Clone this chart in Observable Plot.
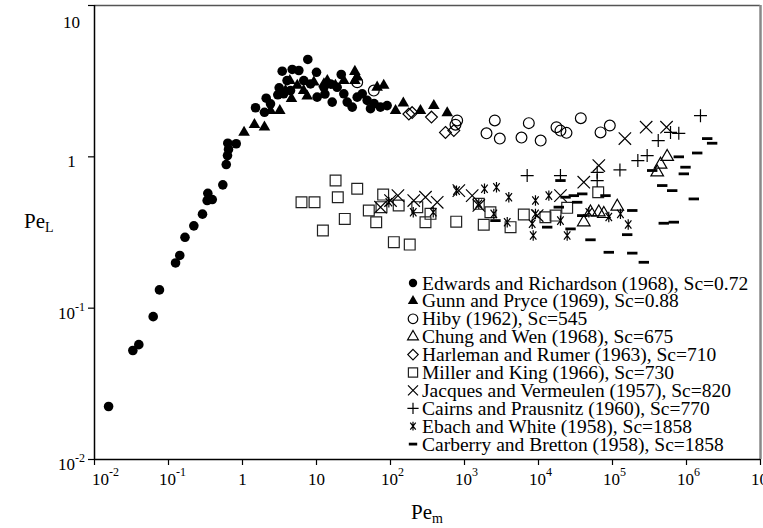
<!DOCTYPE html>
<html><head><meta charset="utf-8">
<script src="https://cdn.jsdelivr.net/npm/d3@7"></script>
<script src="https://cdn.jsdelivr.net/npm/@observablehq/plot@0.6"></script>
<style>
body{margin:0;background:#fff;}
#wrap{position:relative;width:763px;height:528px;}
</style></head><body><div id="wrap"></div>
<script>
// ---- data (Pe_m, Pe_L) ----
const xTicks = [1e-2, 1e-1, 1, 10, 1e2, 1e3, 1e4, 1e5, 1e6, 1e7];
const yTicks = [1e-2, 1e-1, 1, 10];
const edwards = [[0.0155,0.0224],[0.033,0.0525],[0.0397,0.0574],[0.0621,0.0879],[0.0755,0.132],[0.1245,0.199],[0.142,0.223],[0.167,0.294],[0.22,0.35],[0.288,0.418],[0.333,0.514],[0.39,0.522],[0.34,0.574],[0.542,0.653],[0.603,0.889],[0.627,1.02],[0.647,1.12],[0.633,1.23],[0.822,1.22],[1.5,2.11],[2.09,2.44],[2.39,2.24],[1.98,1.97],[3.13,2.86],[3.0,2.57],[3.44,3.68],[4.7,3.78],[5.77,3.72],[7.63,4.4],[10,3.62],[10.2,2.48],[16.3,2.3],[21.6,3.5],[30.4,2.13],[35.5,2.48],[53.7,2.08],[73,2.13],[90,2.18],[4.0,3.19],[4.45,2.74],[6.73,3.19],[8.3,3.03],[12.6,2.88],[15.5,3.03],[19,2.88],[3.6,2.61],[23.4,2.61],[48.4,2.36],[41.5,2.61],[26,2.3],[60,2.25],[13,2.6]];
const gunn = [[1.05,1.45],[1.45,1.63],[1.98,1.57],[2.39,2.02],[3.19,2.02],[4.36,3.19],[4.59,2.42],[7.48,2.52],[14,3.19],[18,2.96],[33,3.66],[33,3.19],[81,2.96],[117,2.02],[149,2.26],[254,2.02],[385,2.18],[584,1.95],[9.2,3.11],[12.6,3.03],[5.5,2.96],[6.7,2.74],[23.4,3.19],[66,2.88],[35.5,3.36],[3.81,2.74]];
const hiby = [[35.5,3.11],[59.5,2.74],[796,1.74],[755,1.63],[1983,1.43],[2566,1.74],[3000,1.32],[5890,1.34],[7400,1.67],[10700,1.28],[17500,1.57],[19800,1.49],[23900,1.44],[37300,1.8],[68900,1.45],[92000,1.61]];
const chung = [[402000,0.791],[446000,0.889],[548000,1.0],[50400,0.43],[65300,0.43],[76300,0.42],[116000,0.47],[40900,0.37]];
const harleman = [[177,1.92],[196,1.96],[358,1.83],[553,1.45],[717,1.49]];
const miller = [[6.27,0.501],[9.4,0.501],[18.1,0.697],[19.4,0.541],[35.5,0.615],[24.1,0.389],[12.2,0.326],[50.9,0.442],[64.1,0.37],[79.6,0.563],[75.5,0.465],[129,0.477],[230,0.465],[297,0.37],[111,0.273],[182,0.263],[347,0.42],[773,0.373],[1560,0.489],[1820,0.356],[2240,0.43],[4190,0.343],[6330,0.416],[12400,0.399],[17000,0.409],[24400,0.46],[64100,0.583]];
const jacques = [[285000,1.57],[147000,1.32],[537000,1.57],[65300,0.876],[40900,0.68],[126,0.554],[100,0.514],[206,0.514],[297,0.541],[428,0.501],[838,0.598],[73.3,0.465],[1560,0.477],[19800,0.554],[9600,0.409],[1270,0.554]];
const cairns = [[7030,0.752],[19800,0.752],[62100,0.697],[62100,0.79],[126000,0.82],[220000,0.945],[294000,1.02],[415000,1.28],[608000,1.45],[787000,1.43],[1545000,1.87]];
const ebach = [[780,0.598],[1862,0.615],[2705,0.63],[3970,0.541],[9100,0.514],[13800,0.554],[203,0.43],[378,0.43],[2490,0.42],[3780,0.37],[8220,0.361],[8480,0.302],[9100,0.42],[19800,0.379],[24400,0.302],[47900,0.43],[89100,0.4],[128000,0.42],[163000,0.357],[95,0.501],[1560,0.49]];
const carberry = [[1905000,1.32],[2220000,1.23],[1395000,1.06],[787000,1.0],[969000,0.854],[920000,0.772],[344000,0.812],[470000,0.646],[641000,0.598],[1255000,0.527],[19800,0.697],[23200,0.541],[30000,0.554],[39000,0.569],[80400,0.554],[33300,0.501],[18800,0.465],[39000,0.409],[185000,0.442],[2620,0.379],[13100,0.343],[27100,0.334],[50400,0.283],[89100,0.234],[158000,0.306],[185000,0.231],[265000,0.201],[493000,0.364],[673000,0.37]];
const labels = ["Edwards and Richardson (1968), Sc=0.72","Gunn and Pryce (1969), Sc=0.88","Hiby (1962), Sc=545","Chung and Wen (1968), Sc=675","Harleman and Rumer (1963), Sc=710","Miller and King (1966), Sc=730","Jacques and Vermeulen (1957), Sc=820","Cairns and Prausnitz (1960), Sc=770","Ebach and White (1958), Sc=1858","Carberry and Bretton (1958), Sc=1858"];

// ---- symbols ----
const R = s => Math.sqrt(s / Math.PI);
const SYM = {
  circle: {draw(c, s) { const r = R(s); c.moveTo(r, 0); c.arc(0, 0, r, 0, 2 * Math.PI); }},
  triangle: {draw(c, s) { const h = R(s), t = 2 * h / Math.sqrt(3); c.moveTo(0, -t); c.lineTo(h, t / 2); c.lineTo(-h, t / 2); c.closePath(); }},
  square: {draw(c, s) { const h = R(s); c.rect(-h, -h, 2 * h, 2 * h); }},
  diamond: {draw(c, s) { const h = R(s); c.moveTo(0, -h); c.lineTo(h, 0); c.lineTo(0, h); c.lineTo(-h, 0); c.closePath(); }},
  times: {draw(c, s) { const h = R(s); c.moveTo(-h, -h); c.lineTo(h, h); c.moveTo(-h, h); c.lineTo(h, -h); }},
  plus: {draw(c, s) { const h = R(s); c.moveTo(-h, 0); c.lineTo(h, 0); c.moveTo(0, -h); c.lineTo(0, h); }},
  asterisk: {draw(c, s) { const h = R(s), dx = h * 0.62, dy = h * 0.8; c.moveTo(0, -h); c.lineTo(0, h); c.moveTo(-dx, -dy); c.lineTo(dx, dy); c.moveTo(dx, -dy); c.lineTo(-dx, dy); }},
  dash: {draw(c, s) { const h = R(s); c.rect(-h, -1.4, 2 * h, 2.8); }}
};

const series = [
  {data: edwards, sym: SYM.circle, r: 4.8, lr: 4.2, fill: "#000", stroke: "none"},
  {data: gunn, sym: SYM.triangle, r: 5.8, lr: 5.2, fill: "#000", stroke: "none"},
  {data: hiby, sym: SYM.circle, r: 5.4, lr: 4.8, fill: "none", stroke: "#000"},
  {data: chung, sym: SYM.triangle, r: 6.3, lr: 5.4, fill: "none", stroke: "#000"},
  {data: harleman, sym: SYM.diamond, r: 5.9, lr: 5.2, fill: "none", stroke: "#000"},
  {data: miller, sym: SYM.square, r: 5.4, lr: 4.6, fill: "none", stroke: "#222"},
  {data: jacques, sym: SYM.times, r: 6.2, lr: 5.0, fill: "none", stroke: "#000"},
  {data: cairns, sym: SYM.plus, r: 6.5, lr: 5.6, fill: "none", stroke: "#000"},
  {data: ebach, sym: SYM.asterisk, r: 5.2, lr: 4.4, fill: "none", stroke: "#000"},
  {data: carberry, sym: SYM.dash, r: 5.2, lr: 4.2, fill: "#000", stroke: "none"}
];

const fmtPow = d => { const e = Math.round(Math.log10(d)); return e === 0 ? "1" : e === 1 ? "10" : "10^" + e; };
const FONT = '"Liberation Serif", "Times New Roman", serif';

const svg = Plot.plot({
  width: 763, height: 528,
  marginLeft: 94, marginRight: 3, marginTop: 5, marginBottom: 69,
  style: {fontFamily: FONT, background: "#fff", color: "#000", overflow: "visible"},
  x: {type: "log", domain: [1e-2, 1e7]},
  y: {type: "log", domain: [1e-2, 10]},
  marks: [
    Plot.ruleY([10], {stroke: "#555", strokeWidth: 1.5}),
    Plot.ruleX([1e7], {stroke: "#888", strokeWidth: 2.5}),
    Plot.axisX(xTicks, {tickSize: 6, tickFormat: () => "", label: null, strokeWidth: 1.2}),
    Plot.axisY(yTicks, {tickSize: 6, tickFormat: () => "", label: null, strokeWidth: 1.2}),
    Plot.ruleX([1e-2], {stroke: "#000", strokeWidth: 1.5}),
    Plot.ruleY([1e-2], {stroke: "#000", strokeWidth: 1.5}),
    Plot.text(xTicks, {x: d => d, text: fmtPow, frameAnchor: "bottom", dy: 25, fontSize: 17, ariaDescription: "xlab"}),
    Plot.text(yTicks, {y: d => d, text: fmtPow, frameAnchor: "left", dx: -23, dy: 5, textAnchor: "middle", fontSize: 17, ariaDescription: "ylab"}),
    ...series.map(s => Plot.dot(s.data, {x: d => d[0], y: d => d[1], r: s.r, symbol: s.sym, fill: s.fill, stroke: s.stroke, strokeWidth: 1.2}))
  ]
});
document.getElementById("wrap").append(svg);

const ns = "http://www.w3.org/2000/svg";
function supify(el, supSize, raise) {
  const s = el.textContent, i = s.indexOf("^");
  if (i < 0) return null;
  el.textContent = "";
  const b = document.createElementNS(ns, "tspan"); b.textContent = s.slice(0, i);
  const p = document.createElementNS(ns, "tspan"); p.textContent = s.slice(i + 1);
  p.setAttribute("font-size", supSize); p.setAttribute("dy", -raise);
  el.append(b, p);
  return b;
}
svg.querySelectorAll('g[aria-description="xlab"] text').forEach((el, i) => {
  const b = supify(el, 12, 8.5);
  if (b) {
    const w = b.getComputedTextLength();
    el.setAttribute("text-anchor", "start");
    el.setAttribute("x", i === 0 ? -w / 2 + 6 : -w / 2 - 1);
  }
});
svg.querySelectorAll('g[aria-description="ylab"] text').forEach(el => {
  const top = el.textContent === "10";
  supify(el, 12, 7.5);
  if (top) el.setAttribute("dy", "0.69em");
});

const root = d3.select(svg);
// axis titles
const tx = root.append("text").attr("x", 427).attr("y", 519).attr("text-anchor", "middle").attr("font-family", FONT).attr("font-size", 21);
tx.append("tspan").text("Pe");
tx.append("tspan").attr("font-size", 14).attr("dy", 4).text("m");
const ty = root.append("text").attr("x", 24).attr("y", 228).attr("text-anchor", "start").attr("font-family", FONT).attr("font-size", 21);
ty.append("tspan").text("Pe");
ty.append("tspan").attr("font-size", 14).attr("dy", 4).text("L");

// legend
const lg = root.append("g").attr("font-family", FONT).attr("font-size", 19.5).attr("text-anchor", "start");
series.forEach((s, i) => {
  const yb = 289.5 + i * 17.9;
  lg.append("path").attr("transform", `translate(413,${yb - 6.5})`)
    .attr("d", d3.symbol(s.sym, Math.PI * s.lr * s.lr)())
    .attr("fill", s.fill).attr("stroke", s.stroke).attr("stroke-width", 1.2);
  lg.append("text").attr("x", 422).attr("y", yb).text(labels[i]);
});
</script></body></html>
